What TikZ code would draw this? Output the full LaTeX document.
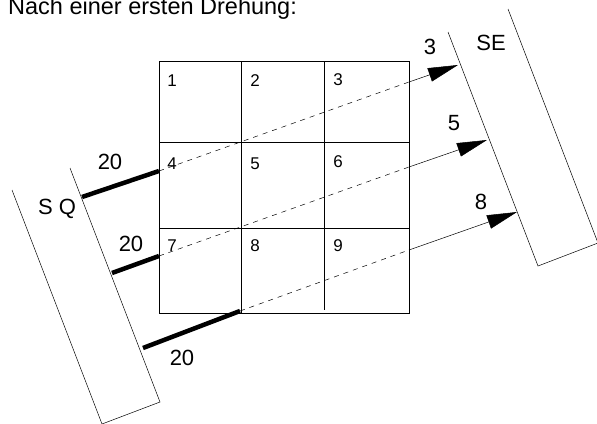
\documentclass[tikz,border=0pt]{standalone}
\usepackage{fontspec}
\setmainfont{Liberation Sans}
\usetikzlibrary{arrows.meta}
\begin{document}
\begin{tikzpicture}[x=1pt,y=-1pt,
  lbl/.style={inner sep=0pt,font=\fontsize{22}{22}\selectfont},
  titlefont/.style={inner sep=0pt,font=\fontsize{23.5}{23.5}\selectfont},
  cellnum/.style={inner sep=0pt,font=\fontsize{17}{17}\selectfont},
  gridline/.style={line width=0.8pt},
  border/.style={line width=0.5pt},
  thickline/.style={line width=4.5pt},
  dashline/.style={line width=0.5pt,dash pattern=on 5pt off 5pt},
  arrline/.style={line width=0.5pt,-{Triangle[length=30pt,width=14pt]}}]
\useasboundingbox (0,0) rectangle (597,423);
% title
\node[titlefont,anchor=base west] (title) at (8,14) {Nach einer ersten Drehung:};
% grid
\draw[gridline] (159,61) rectangle (409,313);
\draw[gridline] (159,142) -- (409,142);
\draw[gridline] (159,228) -- (409,228);
\draw[gridline] (241,61) -- (241,313);
\draw[gridline] (324,61) -- (324,310);
% cell numbers
\node[cellnum] (c1) at (172,81) {1};
\node[cellnum] (c2) at (255,81) {2};
\node[cellnum] (c3) at (338,80) {3};
\node[cellnum] (c4) at (172,164) {4};
\node[cellnum] (c5) at (255,164) {5};
\node[cellnum] (c6) at (338,162) {6};
\node[cellnum] (c7) at (172,246) {7};
\node[cellnum] (c8) at (255,246) {8};
\node[cellnum] (c9) at (338,246) {9};
% SQ box
\draw[border] (70,168) -- (160,402) -- (102,424) -- (12,190);
% SE box
\draw[border] (448,32) -- (538,266) -- (598,243) -- (508,9);
\node[lbl] (sq) at (57,209) {S Q};
\node[lbl] (se) at (491,43) {SE};
% coordinates
\coordinate (q1) at (82,197);
\coordinate (q2) at (112,273);
\coordinate (q3) at (143,348);
\coordinate (s1) at (159,171);
\coordinate (s2) at (159,256);
\coordinate (s3) at (240,311);
\coordinate (m1) at (409,82);
\coordinate (m2) at (409,167);
\coordinate (m3) at (409,250);
\coordinate (e1) at (458,65);
\coordinate (e2) at (487,140);
\coordinate (e3) at (517,212);
% thick lines
\draw[thickline] (q1) -- (s1);
\draw[thickline] (q2) -- (s2);
\draw[thickline] (q3) -- (s3);
% dashed
\draw[dashline] (s1) -- (m1);
\draw[dashline] (s2) -- (m2);
\draw[dashline] (s3) -- (m3);
% arrows
\draw[arrline] (m1) -- (e1);
\draw[arrline] (m2) -- (e2);
\draw[arrline] (m3) -- (e3);
% labels
\node[lbl] (l20a) at (110,162) {20};
\node[lbl] (l20b) at (131,244) {20};
\node[lbl] (l20c) at (182,358) {20};
\node[lbl] (l3) at (430,47) {3};
\node[lbl] (l5) at (454,123) {5};
\node[lbl] (l8) at (481,202) {8};
\end{tikzpicture}
\end{document}
